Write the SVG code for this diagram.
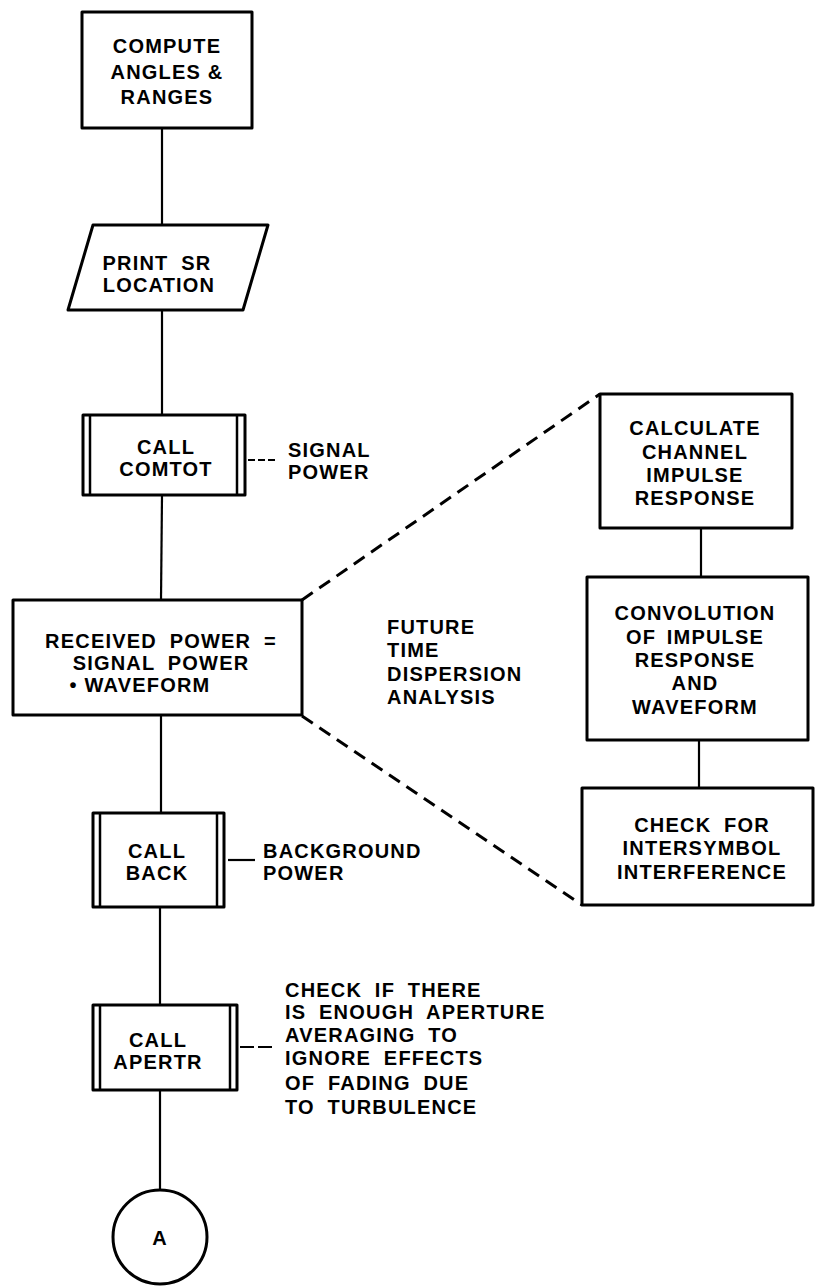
<svg xmlns="http://www.w3.org/2000/svg" width="815" height="1287" viewBox="0 0 815 1287">
  <style>
    .box { fill: #fff; stroke: #000; stroke-width: 3; stroke-linejoin: round; }
    .bar { stroke: #000; stroke-width: 2.5; }
    .link { stroke: #000; stroke-width: 2.2; fill: none; }
    .dash { stroke: #000; stroke-width: 3; fill: none; stroke-dasharray: 13 8; }
    text { font-family: "Liberation Sans", Arial, sans-serif; font-weight: bold; font-size: 20px; letter-spacing: 1.2px; fill: #000; }
    .c { text-anchor: middle; }
  </style>

  <rect width="815" height="1287" fill="#fff"/>

  <!-- connectors -->
  <g id="connectors">
    <line class="link" x1="162" y1="128" x2="162" y2="225"/>
    <line class="link" x1="162" y1="310" x2="162" y2="415"/>
    <line class="link" x1="162" y1="495" x2="161" y2="600"/>
    <line class="link" x1="161" y1="715" x2="161" y2="813"/>
    <line class="link" x1="160" y1="907" x2="160" y2="1005"/>
    <line class="link" x1="160" y1="1090" x2="160" y2="1190"/>
    <line class="link" x1="701" y1="528" x2="701" y2="577"/>
    <line class="link" x1="699" y1="740" x2="699" y2="788"/>
    <!-- expansion of the received-power step -->
    <line class="dash" x1="302" y1="600" x2="600" y2="394"/>
    <line class="dash" x1="302" y1="716" x2="582" y2="905"/>
    <!-- annotation leaders -->
    <line class="link" x1="248" y1="460" x2="277" y2="460" stroke-dasharray="7 3"/>
    <line class="link" x1="228" y1="860" x2="255" y2="860"/>
    <line class="link" x1="240" y1="1047" x2="273" y2="1047" stroke-dasharray="14 4"/>
  </g>

  <g id="compute">
    <rect class="box" x="82" y="12" width="170" height="116"/>
    <text class="c" x="167" y="53">COMPUTE</text>
    <text class="c" x="167" y="79">ANGLES &amp;</text>
    <text class="c" x="167" y="104">RANGES</text>
  </g>

  <g id="print">
    <polygon class="box" points="93,225 268,225 243,310 68,310"/>
    <text class="c" x="157" y="270" word-spacing="6">PRINT SR</text>
    <text class="c" x="159" y="292">LOCATION</text>
  </g>

  <g id="comtot">
    <rect class="box" x="83" y="415" width="162" height="80"/>
    <line class="bar" x1="90" y1="415" x2="90" y2="495"/>
    <line class="bar" x1="237" y1="415" x2="237" y2="495"/>
    <text class="c" x="166" y="454">CALL</text>
    <text class="c" x="166" y="476">COMTOT</text>
  </g>

  <g id="signal-power">
    <text x="288" y="457">SIGNAL</text>
    <text x="288" y="479">POWER</text>
  </g>

  <g id="received">
    <rect class="box" x="13" y="600" width="289" height="115"/>
    <text class="c" x="161" y="648" word-spacing="6">RECEIVED POWER =</text>
    <text class="c" x="161" y="670" word-spacing="6">SIGNAL POWER</text>
    <text class="c" x="140" y="692">• WAVEFORM</text>
  </g>

  <g id="future">
    <text x="387" y="634">FUTURE</text>
    <text x="387" y="657">TIME</text>
    <text x="387" y="681">DISPERSION</text>
    <text x="387" y="704">ANALYSIS</text>
  </g>

  <g id="calculate">
    <rect class="box" x="600" y="394" width="192" height="134"/>
    <text class="c" x="695" y="435">CALCULATE</text>
    <text class="c" x="695" y="459">CHANNEL</text>
    <text class="c" x="695" y="482">IMPULSE</text>
    <text class="c" x="695" y="505">RESPONSE</text>
  </g>

  <g id="convolution">
    <rect class="box" x="587" y="577" width="221" height="163"/>
    <text class="c" x="695" y="620">CONVOLUTION</text>
    <text class="c" x="695" y="644" word-spacing="4">OF IMPULSE</text>
    <text class="c" x="695" y="667">RESPONSE</text>
    <text class="c" x="695" y="690">AND</text>
    <text class="c" x="695" y="714">WAVEFORM</text>
  </g>

  <g id="intersymbol">
    <rect class="box" x="582" y="788" width="231" height="117"/>
    <text class="c" x="702" y="832" word-spacing="6">CHECK FOR</text>
    <text class="c" x="702" y="855">INTERSYMBOL</text>
    <text class="c" x="702" y="879">INTERFERENCE</text>
  </g>

  <g id="back">
    <rect class="box" x="93" y="813" width="131" height="94"/>
    <line class="bar" x1="100" y1="813" x2="100" y2="907"/>
    <line class="bar" x1="217" y1="813" x2="217" y2="907"/>
    <text class="c" x="157" y="858">CALL</text>
    <text class="c" x="157" y="880">BACK</text>
  </g>

  <g id="background-power">
    <text x="263" y="858">BACKGROUND</text>
    <text x="263" y="880">POWER</text>
  </g>

  <g id="apertr">
    <rect class="box" x="93" y="1005" width="144" height="85"/>
    <line class="bar" x1="100" y1="1005" x2="100" y2="1090"/>
    <line class="bar" x1="230" y1="1005" x2="230" y2="1090"/>
    <text class="c" x="158" y="1047">CALL</text>
    <text class="c" x="158" y="1069">APERTR</text>
  </g>

  <g id="aperture-note" word-spacing="6">
    <text x="285" y="997">CHECK IF THERE</text>
    <text x="285" y="1019">IS ENOUGH APERTURE</text>
    <text x="285" y="1042">AVERAGING TO</text>
    <text x="285" y="1065">IGNORE EFFECTS</text>
    <text x="285" y="1090">OF FADING DUE</text>
    <text x="285" y="1114">TO TURBULENCE</text>
  </g>

  <g id="connector-a">
    <circle class="box" cx="160" cy="1237" r="47"/>
    <text class="c" x="160" y="1245" style="font-size:20px">A</text>
  </g>
</svg>
